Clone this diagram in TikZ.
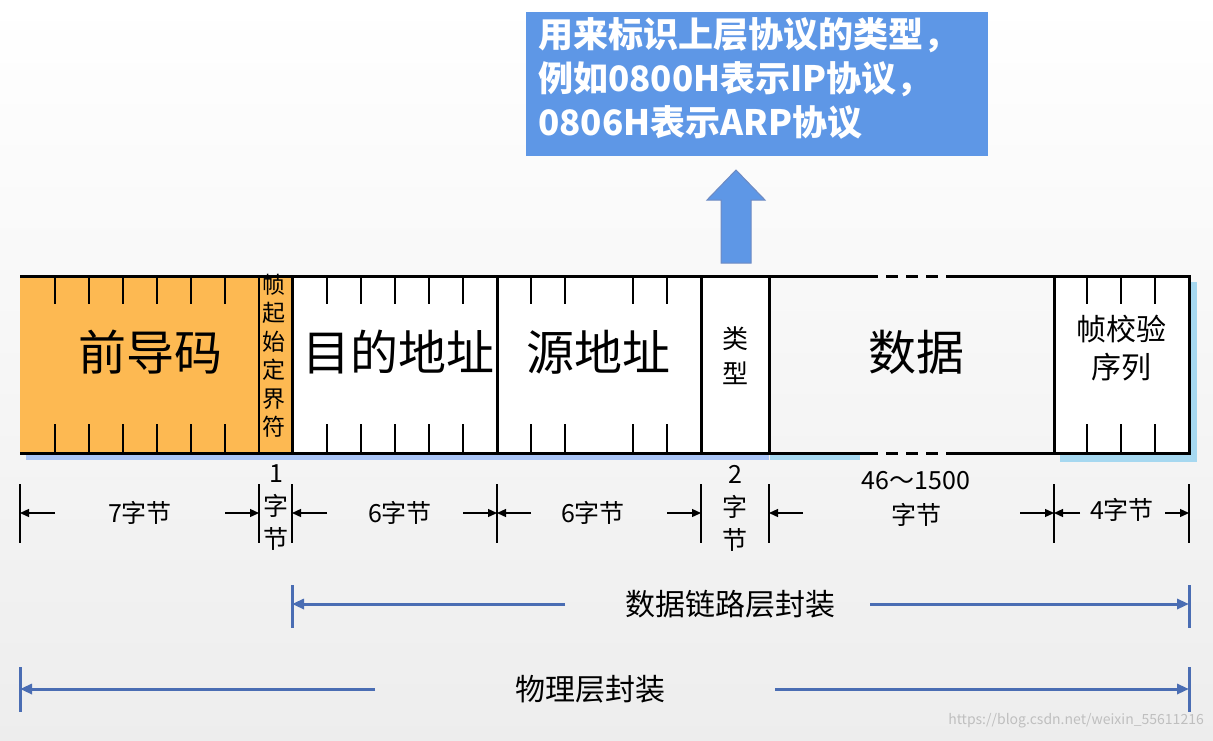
\documentclass[tikz,border=0pt]{standalone}
\usepackage{fontspec}
\setmainfont{Noto Sans CJK SC}
\usetikzlibrary{arrows.meta,shapes.arrows}
\definecolor{orng}{HTML}{FDB952}
\definecolor{calloutblue}{HTML}{5E97E6}
\definecolor{lineblue}{HTML}{4A6DB3}
\definecolor{shadowblue}{HTML}{A6D8F0}
\tikzset{
  fr/.style={line width=3pt},
  tk/.style={line width=1.6pt},
  dim/.style={line width=1.3pt},
  dimarr/.style={line width=1.3pt,-{Triangle[length=9pt,width=8pt]}},
  encl/.style={line width=3pt,color=lineblue},
  encarr/.style={line width=3pt,color=lineblue,-{Triangle[length=12pt,width=10pt]}},
  lbl/.style={inner sep=0pt,align=center},
  fsz/.style n args={2}{font=\fontsize{#1}{#2}\selectfont},
}
\begin{document}
\begin{tikzpicture}[x=1pt,y=-1pt]
\useasboundingbox (0,0) rectangle (1213,740);
\shade[top color=white,bottom color=black!7] (0,0) rectangle (1213,740);
% shadows
\fill[shadowblue] (1060,282) rectangle (1197,462);
\fill[shadowblue!80!blue!70] (26,453) rectangle (769,460);
\fill[shadowblue] (770,455) rectangle (860,460);
% fields
\fill[orng] (20,276) rectangle (292,453);
\fill[white] (292,276) rectangle (769,453);
\fill[white] (1054,276) rectangle (1189,453);
\draw[fr] (20,276) -- (866,276) (955,276) -- (1189,276) -- (1189,453) -- (955,453) (866,453) -- (20,453) -- cycle;
\draw[fr,dash pattern=on 12pt off 8pt] (866,276) -- (955,276) (866,453) -- (955,453);
\draw[tk] (259,276) -- (259,453);
\draw[fr] (292,276) -- (292,453) (497,276) -- (497,453) (701,276) -- (701,453) (769,276) -- (769,453) (1054,276) -- (1054,453);
\foreach \x in {55,89,123,157,191,225,327,361,395,429,463,531,565,633,667,1087,1121,1155}{
  \draw[tk] (\x,276) -- (\x,304) (\x,424) -- (\x,453);}
% labels
\node[lbl,fsz={48}{50}] (pre) at (150,352) {前导码};
\node[lbl,fsz={23}{28.5}] (sfd) at (274,356) {帧\\起\\始\\定\\界\\符};
\node[lbl,fsz={48}{50}] (dst) at (398,352) {目的地址};
\node[lbl,fsz={48}{50}] (src) at (598,352) {源地址};
\node[lbl,fsz={26}{35}] (typ) at (735,356) {类\\型};
\node[lbl,fsz={48}{50}] (dat) at (916,352) {数据};
\node[lbl,fsz={30}{38}] (fcs) at (1121,348) {帧校验\\序列};
% dimension lines
\foreach \x in {20,259,292,497,701,769,1054,1189}{\draw[dim] (\x,484) -- (\x,543);}
\node[lbl,fsz={25}{30}] (d1) at (140,513) {7字节};
\node[lbl,fsz={25}{33}] (d2) at (276,508) {1\\字\\节};
\node[lbl,fsz={25}{30}] (d3) at (400,513) {6字节};
\node[lbl,fsz={25}{30}] (d4) at (593,513) {6字节};
\node[lbl,fsz={25}{33}] (d5) at (735,508) {2\\字\\节};
\node[lbl,fsz={25}{35}] (d6) at (916,499) {46～1500\\字节};
\node[lbl,fsz={25}{30}] (d7) at (1122,510) {4字节};
\draw[dimarr] (55,513) -- (20,513);
\draw[dimarr] (225,513) -- (259,513);
\draw[dimarr] (327,513) -- (292,513);
\draw[dimarr] (463,513) -- (497,513);
\draw[dimarr] (531,513) -- (497,513);
\draw[dimarr] (667,513) -- (701,513);
\draw[dimarr] (803,513) -- (769,513);
\draw[dimarr] (1020,513) -- (1054,513);
\draw[dimarr] (1080,513) -- (1054,513);
\draw[dimarr] (1165,513) -- (1189,513);
% encapsulation
\node[lbl,fsz={30}{34}] (dll) at (730,604) {数据链路层封装};
\draw[encl] (292,585) -- (292,628) (1189,585) -- (1189,628);
\draw[encarr] (565,604) -- (292,604);
\draw[encarr] (870,604) -- (1189,604);
\node[lbl,fsz={30}{34}] (phy) at (590,689) {物理层封装};
\draw[encl] (20,667) -- (20,712) (1189,667) -- (1189,712);
\draw[encarr] (375,689) -- (20,689);
\draw[encarr] (775,689) -- (1189,689);
% callout
\fill[calloutblue] (526,12) rectangle (988,156);
\node[lbl,anchor=north west,align=left,text=white,font=\fontsize{35}{44}\selectfont\bfseries] (call) at (538,17)
 {用来标识上层协议的类型，\\例如0800H表示IP协议，\\0806H表示ARP协议};
\draw[lineblue!80,fill=calloutblue,line width=1pt] (721,263) -- (721,200) -- (707,200) -- (736,170) -- (765,200) -- (751,200) -- (751,263) -- cycle;
\node[lbl,anchor=south east,text=black!25,fsz={14}{16}] (wm) at (1204,728) {https://blog.csdn.net/weixin\_55611216};
\end{tikzpicture}
\end{document}
